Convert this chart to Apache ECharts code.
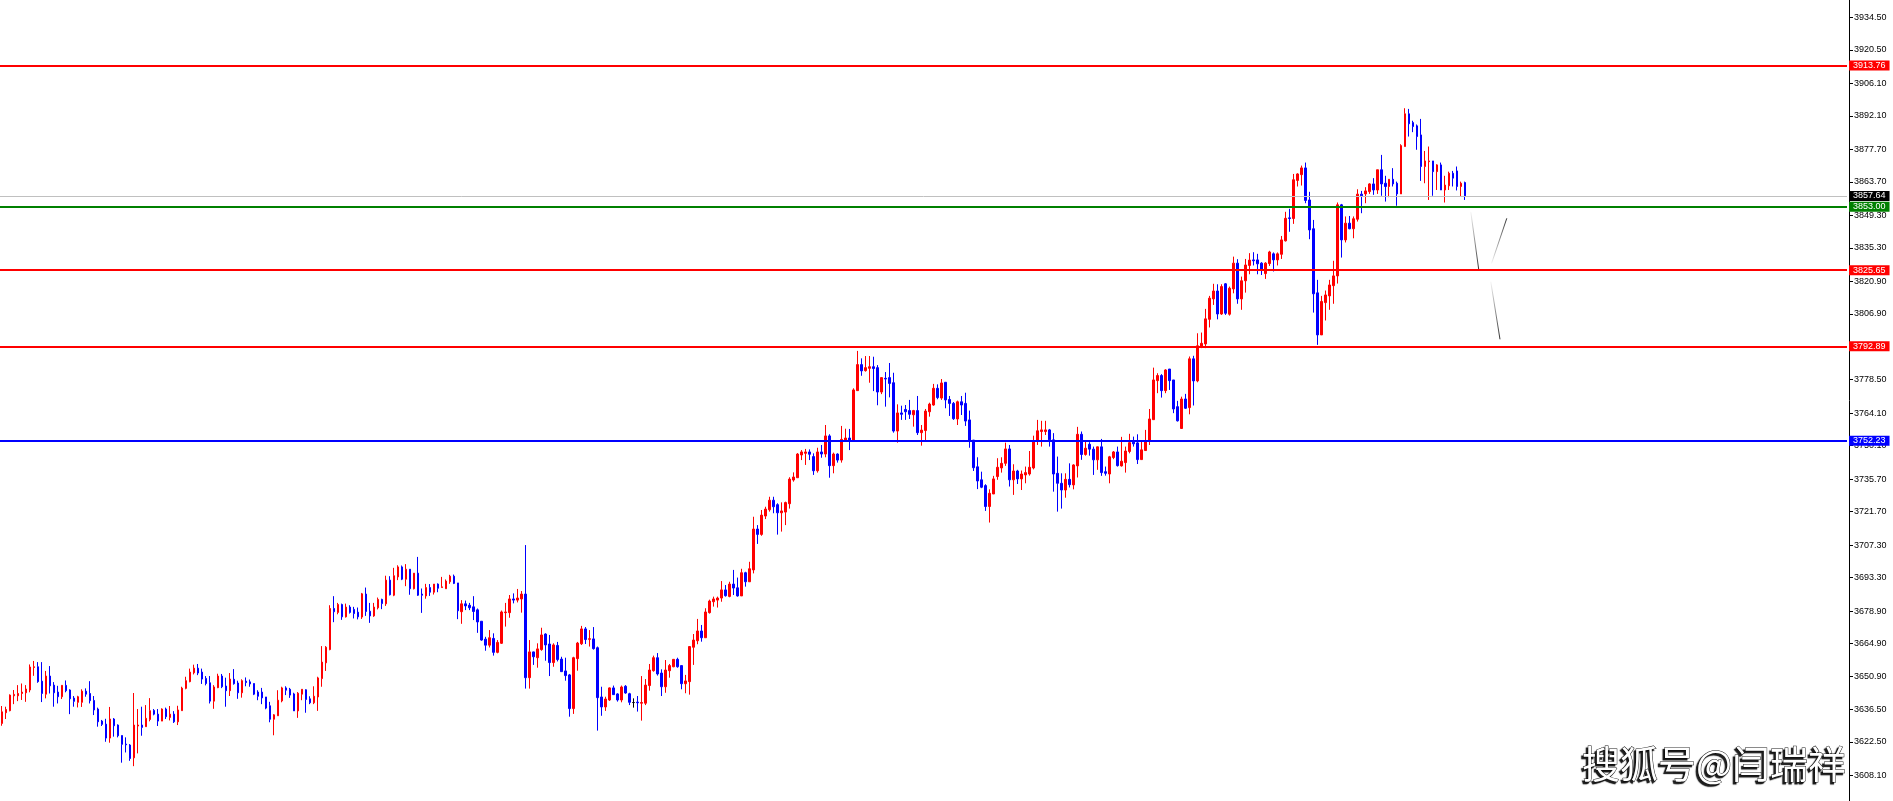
<!DOCTYPE html>
<html><head><meta charset="utf-8">
<script src="https://cdn.jsdelivr.net/npm/echarts@6/dist/echarts.min.js"></script>
<style>html,body{margin:0;padding:0;background:#fff;overflow:hidden}#c{width:1893px;height:801px}</style>
</head><body><div id="c"></div>
<script>
// ---- candle data (one entry per bar, oldest first) ----
const opens = [
3630.5,3635.1,3636.0,3642.4,3642.4,3643.4,3643.7,3644.9,3654.6,3654.9,3648.7,3643.1,3650.9,3647.0,3644.0,3642.0,3646.9,3644.9,3641.4,3639.6,
3639.6,3644.4,3643.4,3640.4,3636.7,3631.5,3630.2,3624.2,3632.4,3629.8,3625.3,3621.6,3621.2,3615.7,3629.4,3629.8,3629.1,3632.2,3636.1,3634.5,
3631.5,3636.7,3633.1,3634.5,3631.2,3636.0,3645.6,3648.5,3652.3,3654.3,3652.6,3649.9,3648.0,3640.1,3645.9,3650.9,3646.6,3644.6,3649.5,3647.9,
3643.7,3648.7,3648.4,3647.7,3644.0,3644.0,3641.9,3638.1,3632.3,3633.8,3640.2,3645.8,3645.2,3643.2,3635.9,3643.1,3645.0,3641.1,3639.4,3641.9,
3649.8,3656.6,3662.3,3680.0,3678.3,3681.7,3676.4,3680.6,3679.6,3678.4,3676.3,3686.2,3678.8,3676.8,3680.3,3683.9,3682.0,3692.2,3685.7,3693.6,
3697.9,3692.6,3696.9,3688.5,3695.2,3686.2,3685.4,3689.0,3687.0,3690.5,3689.0,3688.5,3691.5,3693.9,3691.0,3678.6,3682.0,3681.4,3680.7,3679.4,
3674.5,3666.8,3664.2,3667.1,3661.1,3665.0,3678.2,3678.2,3684.1,3683.6,3684.1,3686.2,3650.2,3661.3,3658.8,3662.3,3669.0,3664.7,3656.7,3664.1,
3658.2,3653.1,3651.4,3636.9,3658.4,3664.8,3671.2,3666.7,3666.9,3663.1,3641.9,3637.6,3640.6,3645.8,3643.2,3640.6,3646.5,3643.3,3639.5,3639.7,
3639.2,3639.2,3646.8,3653.2,3658.8,3652.2,3646.3,3653.2,3654.9,3658.1,3655.4,3647.6,3648.5,3663.3,3666.1,3670.3,3667.4,3678.2,3682.9,3683.6,
3684.5,3688.0,3685.2,3690.5,3688.9,3685.4,3695.4,3691.5,3696.6,3714.2,3711.9,3719.8,3722.5,3726.6,3724.7,3721.2,3721.5,3725.1,3735.3,3736.3,
3746.1,3746.8,3747.4,3745.4,3739.3,3747.4,3746.5,3754.3,3741.5,3746.5,3743.9,3752.5,3753.4,3752.5,3773.8,3785.0,3782.4,3783.4,3784.1,3783.7,
3773.2,3779.1,3779.4,3777.2,3756.4,3764.2,3765.7,3765.2,3763.4,3765.2,3755.7,3756.6,3764.7,3767.6,3774.8,3770.6,3777.4,3770.0,3768.3,3761.6,
3769.0,3768.3,3761.2,3752.5,3741.0,3735.4,3732.9,3723.9,3729.3,3736.8,3740.5,3742.5,3748.7,3735.4,3739.2,3735.8,3737.5,3737.9,3740.5,3752.0,
3756.2,3756.2,3756.9,3752.6,3738.2,3733.9,3731.0,3735.6,3733.2,3741.4,3755.0,3746.3,3750.7,3748.6,3744.0,3749.6,3738.9,3737.9,3745.0,3747.4,
3741.4,3742.8,3747.6,3751.6,3751.3,3744.1,3748.0,3751.9,3761.3,3778.1,3780.3,3773.8,3783.1,3778.4,3766.9,3757.5,3770.2,3766.5,3787.5,3778.0,
3792.8,3793.9,3804.5,3813.3,3816.7,3806.8,3819.8,3806.7,3817.6,3828.7,3813.3,3821.1,3827.7,3830.1,3830.1,3828.7,3824.2,3828.5,3832.7,3830.1,
3832.5,3838.3,3848.2,3847.9,3864.3,3866.8,3869.7,3855.9,3843.5,3815.9,3797.8,3811.7,3814.6,3819.0,3823.2,3853.8,3838.7,3845.9,3843.5,3847.6,
3858.4,3858.5,3859.5,3862.8,3860.2,3868.9,3863.1,3861.7,3864.8,3863.1,3858.5,3878.9,3893.0,3889.2,3887.8,3883.9,3870.3,3872.4,3872.7,3868.1,
3871.0,3860.2,3862.0,3867.4,3868.4,3861.7,3863.4
];
const closes = [
3635.5,3636.5,3642.7,3643.0,3643.4,3644.0,3645.3,3654.8,3654.9,3648.5,3643.4,3650.9,3646.7,3643.7,3642.0,3646.9,3644.6,3641.1,3640.0,3642.0,
3644.4,3643.1,3640.3,3636.3,3631.2,3630.1,3624.2,3632.4,3629.5,3625.2,3621.5,3621.3,3615.4,3629.8,3629.8,3628.8,3632.7,3636.0,3634.5,3631.5,
3636.7,3633.4,3634.5,3631.2,3636.3,3645.7,3648.9,3652.6,3654.3,3652.2,3649.6,3647.7,3640.1,3646.2,3650.9,3646.3,3644.6,3649.6,3647.6,3643.7,
3648.9,3648.1,3647.5,3643.1,3642.2,3641.5,3637.1,3632.3,3634.2,3640.5,3645.8,3644.8,3642.7,3635.9,3643.5,3645.2,3640.8,3639.4,3642.2,3650.1,
3656.9,3663.3,3680.0,3678.6,3681.7,3676.4,3680.6,3678.3,3677.8,3676.4,3686.3,3678.7,3676.8,3680.6,3683.9,3682.1,3692.2,3685.9,3694.1,3697.9,
3692.6,3696.9,3688.5,3695.2,3685.7,3685.7,3689.0,3687.0,3690.5,3688.7,3689.3,3691.8,3693.9,3690.8,3679.0,3682.0,3681.1,3680.3,3678.7,3674.2,
3666.4,3664.2,3667.4,3661.1,3665.4,3678.5,3678.5,3684.1,3683.6,3684.5,3686.2,3650.2,3661.3,3659.2,3662.6,3668.6,3664.3,3656.7,3664.3,3658.0,
3652.8,3651.1,3636.9,3658.8,3665.1,3671.2,3666.6,3667.0,3662.7,3641.6,3637.6,3641.0,3645.8,3642.9,3640.6,3646.2,3643.6,3639.6,3639.5,3639.4,
3639.5,3647.0,3653.5,3658.8,3651.8,3646.3,3653.5,3655.4,3658.1,3654.9,3647.6,3648.8,3663.6,3666.4,3670.3,3667.4,3678.5,3683.2,3684.1,3684.5,
3688.0,3685.5,3690.5,3688.8,3685.4,3695.4,3691.5,3697.1,3714.2,3711.9,3720.2,3722.8,3726.6,3723.8,3721.2,3722.0,3725.6,3735.7,3736.6,3746.5,
3747.4,3747.4,3746.4,3739.3,3747.4,3746.5,3754.3,3741.5,3746.5,3743.9,3752.8,3753.4,3752.5,3774.1,3785.0,3782.3,3783.7,3784.1,3783.3,3773.2,
3779.4,3778.8,3776.9,3756.4,3764.2,3763.6,3764.7,3763.6,3765.2,3755.7,3756.8,3765.0,3768.0,3774.8,3770.8,3777.1,3769.8,3768.3,3761.7,3769.0,
3767.6,3760.7,3752.5,3740.6,3734.9,3732.2,3723.9,3729.6,3735.8,3740.8,3742.5,3748.7,3735.4,3739.2,3735.8,3737.9,3738.5,3740.8,3752.3,3756.5,
3756.9,3756.9,3752.6,3737.9,3733.9,3731.0,3735.6,3733.3,3741.8,3755.0,3746.3,3749.0,3748.6,3744.0,3749.6,3738.5,3738.2,3745.3,3747.4,3741.5,
3743.4,3747.8,3751.4,3750.9,3744.1,3748.3,3752.2,3761.6,3778.4,3780.3,3773.8,3782.7,3778.1,3765.9,3760.8,3770.2,3766.2,3787.5,3778.0,3793.1,
3794.2,3804.7,3813.6,3816.7,3806.8,3818.6,3807.1,3817.9,3828.7,3813.3,3821.1,3827.9,3830.0,3829.7,3828.4,3826.1,3828.7,3833.5,3830.1,3832.7,
3838.7,3848.0,3847.9,3864.6,3867.1,3869.7,3855.7,3843.0,3815.5,3797.8,3812.2,3815.0,3819.3,3823.2,3853.8,3838.7,3845.9,3843.5,3847.8,3858.4,
3857.7,3859.8,3862.8,3860.2,3868.9,3862.8,3861.7,3864.8,3862.8,3858.5,3879.3,3893.0,3888.7,3887.5,3883.2,3870.3,3872.7,3872.7,3868.1,3871.0,
3860.2,3862.3,3867.4,3865.3,3861.7,3863.1,3857.64
];
const lows = [
3629.5,3632.4,3635.7,3638.8,3640.1,3640.6,3639.8,3643.9,3651.0,3648.0,3639.7,3641.3,3643.4,3637.7,3639.1,3641.0,3643.9,3634.5,3637.7,3637.4,
3637.6,3642.0,3639.1,3634.1,3629.1,3629.4,3622.6,3622.2,3624.8,3624.5,3613.6,3618.0,3614.4,3612.1,3617.6,3625.2,3629.1,3631.4,3634.0,3629.4,
3631.5,3632.4,3631.8,3630.7,3629.8,3636.0,3645.2,3648.2,3651.6,3651.3,3647.5,3646.9,3639.1,3636.8,3645.7,3645.7,3637.7,3642.3,3647.2,3641.1,
3641.6,3646.5,3646.3,3642.7,3640.5,3638.8,3636.6,3631.0,3625.4,3633.8,3639.6,3642.7,3641.5,3635.9,3632.9,3640.5,3635.1,3638.8,3638.8,3635.9,
3646.3,3653.1,3662.0,3674.1,3677.5,3675.1,3676.1,3677.8,3675.7,3675.3,3675.5,3676.8,3673.8,3676.4,3679.6,3679.7,3681.1,3685.6,3685.3,3692.2,
3692.2,3689.6,3685.9,3688.2,3685.4,3678.1,3684.2,3685.4,3686.0,3687.0,3689.0,3688.5,3690.6,3690.5,3675.4,3673.4,3679.3,3679.3,3675.0,3669.5,
3666.1,3661.8,3663.2,3659.7,3660.7,3664.7,3672.2,3676.0,3682.2,3682.6,3678.2,3645.5,3645.5,3655.7,3654.5,3661.8,3657.5,3650.9,3654.9,3657.2,
3652.8,3648.9,3633.4,3634.6,3653.2,3664.3,3664.7,3663.6,3662.3,3627.4,3633.8,3635.9,3640.2,3642.9,3639.9,3639.6,3643.3,3638.4,3637.3,3635.6,
3631.7,3638.4,3644.6,3652.8,3651.1,3642.3,3643.7,3650.2,3654.7,3654.5,3645.2,3643.5,3642.9,3655.7,3664.6,3665.7,3667.4,3677.8,3680.8,3680.4,
3682.9,3685.1,3684.8,3685.8,3685.1,3685.4,3689.4,3691.5,3695.1,3707.8,3711.3,3718.5,3721.7,3721.0,3711.8,3713.1,3715.9,3723.0,3734.6,3736.3,
3743.9,3741.8,3743.9,3737.5,3738.5,3744.9,3745.1,3736.3,3738.2,3742.8,3742.8,3752.5,3748.2,3752.5,3773.8,3780.2,3782.0,3777.2,3773.6,3767.5,
3772.3,3766.9,3770.9,3755.7,3751.4,3761.2,3761.2,3761.6,3758.3,3754.7,3750.1,3752.5,3762.6,3767.3,3770.1,3769.8,3766.2,3762.9,3761.2,3759.0,
3763.3,3758.6,3749.2,3739.2,3731.4,3731.8,3722.0,3717.0,3729.3,3735.4,3738.5,3741.4,3732.5,3728.9,3733.6,3731.0,3733.9,3737.2,3739.9,3750.4,
3749.7,3754.7,3749.7,3730.3,3721.7,3723.0,3727.7,3732.1,3731.3,3736.4,3744.0,3745.8,3745.8,3737.5,3739.7,3737.1,3737.2,3733.9,3744.3,3741.1,
3741.1,3738.5,3746.8,3749.7,3742.2,3744.1,3747.8,3750.4,3761.3,3772.7,3770.8,3772.7,3774.1,3764.1,3760.5,3757.5,3765.9,3763.6,3767.4,3777.4,
3792.1,3792.1,3801.0,3810.7,3804.5,3806.4,3806.4,3806.1,3815.7,3811.2,3808.6,3816.0,3823.9,3827.7,3823.9,3823.6,3821.9,3827.5,3825.1,3827.7,
3830.5,3838.0,3842.2,3845.6,3861.7,3862.1,3854.5,3839.0,3807.4,3793.5,3797.8,3804.0,3808.6,3811.2,3819.9,3831.1,3837.6,3843.3,3839.4,3846.6,
3850.2,3854.5,3858.5,3858.1,3858.5,3857.7,3855.2,3857.1,3861.7,3853.4,3858.5,3878.9,3883.2,3885.1,3877.5,3864.1,3863.1,3855.9,3857.7,3860.2,
3860.2,3854.8,3860.2,3861.7,3860.0,3857.4,3855.9
];
const highs = [
3638.0,3637.7,3643.0,3644.9,3647.0,3647.7,3647.0,3655.9,3657.4,3656.9,3656.9,3653.1,3655.2,3648.3,3646.7,3646.9,3649.0,3645.2,3642.3,3642.4,
3645.2,3645.6,3648.7,3642.3,3637.3,3632.0,3632.5,3637.6,3632.8,3630.1,3625.3,3624.5,3621.6,3643.6,3636.7,3637.7,3638.4,3641.4,3636.7,3636.7,
3637.0,3637.3,3638.0,3635.8,3638.1,3646.3,3650.6,3654.1,3655.8,3656.1,3654.1,3650.9,3650.9,3647.0,3651.9,3651.8,3650.2,3652.2,3653.9,3648.9,
3649.5,3650.3,3649.4,3647.7,3644.8,3645.8,3641.9,3639.8,3634.5,3644.8,3646.3,3646.5,3645.8,3643.7,3644.0,3645.2,3645.2,3642.2,3646.5,3650.6,
3663.8,3663.8,3681.4,3685.3,3682.4,3682.1,3682.1,3681.4,3680.7,3680.4,3686.7,3689.0,3682.4,3682.4,3684.7,3684.2,3694.1,3693.9,3697.5,3698.6,
3698.5,3699.1,3696.9,3695.2,3702.2,3688.6,3690.6,3690.5,3690.5,3690.8,3693.6,3692.5,3694.5,3694.6,3691.0,3683.6,3683.4,3682.4,3685.3,3680.0,
3674.5,3667.8,3670.7,3669.3,3666.4,3679.1,3682.4,3685.8,3686.5,3688.4,3687.5,3707.3,3666.4,3661.4,3665.0,3671.7,3669.3,3668.6,3665.0,3665.6,
3659.2,3658.8,3651.8,3659.2,3665.6,3672.5,3672.0,3670.7,3672.0,3663.6,3646.3,3642.0,3646.0,3646.8,3643.5,3646.8,3647.0,3643.7,3641.3,3642.3,
3650.9,3649.6,3656.1,3659.7,3660.8,3653.8,3657.8,3656.1,3658.2,3658.8,3655.4,3651.4,3663.8,3669.0,3675.5,3672.9,3680.1,3683.8,3685.1,3685.1,
3691.8,3690.1,3691.5,3696.6,3693.3,3697.1,3695.8,3700.1,3719.5,3715.9,3722.4,3723.8,3728.1,3728.1,3725.3,3725.7,3726.0,3736.5,3738.6,3746.9,
3748.2,3748.7,3748.5,3746.8,3749.2,3750.4,3759.0,3755.0,3747.1,3746.8,3758.6,3757.4,3757.3,3774.8,3790.9,3787.7,3788.7,3788.7,3788.4,3784.8,
3779.5,3781.8,3785.7,3781.5,3767.9,3767.3,3767.6,3769.8,3765.5,3771.5,3759.0,3765.9,3768.6,3776.7,3776.5,3778.8,3777.5,3771.5,3768.9,3769.5,
3771.5,3772.9,3765.2,3752.5,3745.1,3738.9,3733.5,3731.3,3737.1,3744.7,3745.1,3751.4,3750.4,3742.1,3739.7,3739.4,3741.1,3747.8,3754.4,3761.2,
3760.8,3760.8,3757.3,3755.5,3745.4,3738.2,3738.2,3742.5,3742.1,3758.2,3756.2,3751.9,3751.6,3749.7,3749.7,3753.0,3741.1,3745.7,3747.8,3749.7,
3753.9,3749.7,3755.2,3754.0,3755.0,3751.9,3756.9,3765.9,3783.7,3781.3,3780.9,3783.0,3783.1,3778.4,3769.4,3771.2,3772.4,3788.5,3788.8,3798.5,
3798.8,3809.0,3814.6,3819.8,3819.6,3819.6,3820.1,3818.6,3831.5,3830.4,3822.9,3830.5,3833.0,3833.4,3832.7,3829.1,3829.1,3834.0,3833.3,3833.3,
3840.4,3850.8,3852.1,3867.1,3867.4,3870.7,3872.0,3859.4,3847.3,3821.5,3814.6,3816.9,3821.5,3829.7,3854.8,3854.2,3848.8,3849.0,3848.8,3860.5,
3859.8,3861.4,3863.1,3865.3,3868.9,3875.3,3866.3,3864.8,3869.6,3863.8,3879.9,3895.4,3895.1,3890.0,3888.4,3890.8,3877.0,3878.9,3872.7,3871.3,
3872.0,3866.3,3868.1,3868.4,3870.3,3863.8,3863.8
];
// right-hand price scale labels
const tickLabels = ['3608.10','3622.50','3636.50','3650.90','3664.90','3678.90','3693.30','3707.30','3721.70','3735.70','3750.10','3764.10',
  '3778.50','3792.50','3806.90','3820.90','3835.30','3849.30','3863.70','3877.70','3892.10','3906.10','3920.50','3934.50'];
// horizontal price levels
const levelValues = [3913.76, 3857.64, 3853.00, 3825.65, 3792.89, 3752.23];
// projection strokes drawn on the chart (bar index, price)
const projDown1 = [[367.4, 3850.8], [369.4, 3825.7]];
const projUp = [[372.6, 3828.6], [376.4, 3848.0]];
const projDown2 = [[372.4, 3820.7], [374.7, 3795.9]];
const watermark = '搜狐号@闫瑞祥';

// ---- styling / layout ----
const SLOTS = 462;
const levelStyle = {
  3913.76: {c: '#ff0000', w: 2}, 3857.64: {c: '#c0c0c0', w: 1, bg: '#000000'}, 3853.00: {c: '#008000', w: 2},
  3825.65: {c: '#ff0000', w: 2}, 3792.89: {c: '#ff0000', w: 2}, 3752.23: {c: '#0000ff', w: 2}
};
const categories = [];
for (let i = 0; i < SLOTS; i++) categories.push(String(i));
const candleData = opens.map((o, i) => [o, closes[i], lows[i], highs[i]]);

function fade(fromTop) {
  return {type: 'linear', x: 0, y: 0, x2: 0, y2: 1, colorStops: fromTop
    ? [{offset: 0, color: 'rgba(0,0,0,0)'}, {offset: 1, color: 'rgba(0,0,0,0.85)'}]
    : [{offset: 0, color: 'rgba(0,0,0,0.85)'}, {offset: 1, color: 'rgba(0,0,0,0)'}]};
}
function projSeries(data, fromTop) {
  return {type: 'line', xAxisIndex: 1, yAxisIndex: 0, data: data, symbol: 'none', silent: true,
    lineStyle: {width: 1, color: fade(fromTop)}, z: 3};
}

const chart = echarts.init(document.getElementById('c'), null, {renderer: 'canvas'});
chart.setOption({
  animation: false,
  backgroundColor: '#ffffff',
  grid: {left: -1, right: 46, top: 0, bottom: 0, containLabel: false},
  xAxis: [
    {type: 'category', data: categories, boundaryGap: true, show: false},
    {type: 'value', min: -0.5, max: SLOTS - 0.5, show: false, axisLine: {onZero: false}}
  ],
  yAxis: {
    type: 'value', position: 'right', offset: 2, min: 3597.1, max: 3942.0, scale: true,
    splitLine: {show: false},
    axisLine: {show: true, onZero: false, lineStyle: {color: '#000', width: 1}},
    axisTick: {show: true, length: 4, lineStyle: {color: '#000'}, customValues: tickLabels.map(Number)},
    axisLabel: {show: true, margin: 5, color: '#000', fontSize: 9, fontFamily: '"Liberation Sans", Arial, sans-serif',
      customValues: tickLabels.map(Number), formatter: v => v.toFixed(2)}
  },
  graphic: [{
    type: 'text', x: 1846, y: 783, silent: true, z: 10,
    style: {text: watermark, fontSize: 38, fontFamily: '"Noto Sans CJK SC", sans-serif',
      fill: '#ffffff', stroke: '#111111', lineWidth: 1, align: 'right', verticalAlign: 'bottom',
      textShadowColor: 'rgba(0,0,0,0.9)', textShadowBlur: 1, textShadowOffsetX: -2, textShadowOffsetY: 2}
  }],
  series: [
    {
      type: 'candlestick', data: candleData, barWidth: 2, silent: true,
      itemStyle: {color: '#ff0000', color0: '#0000ff', borderColor: '#ff0000', borderColor0: '#0000ff',
        borderColorDoji: '#000000', borderWidth: 1},
      markLine: {
        silent: true, symbol: 'none', animation: false,
        data: levelValues.map(v => ({
          yAxis: v,
          lineStyle: {color: levelStyle[v].c, width: levelStyle[v].w, type: 'solid'},
          label: {show: true, position: 'end', distance: 2, formatter: v.toFixed(2), color: '#fff',
            backgroundColor: levelStyle[v].bg || levelStyle[v].c, padding: [1, 4, 0, 4], fontSize: 9, lineHeight: 9,
            fontFamily: '"Liberation Sans", Arial, sans-serif'}
        }))
      }
    },
    projSeries(projDown1, true),
    projSeries(projUp, false),
    projSeries(projDown2, true)
  ]
});
</script></body></html>
